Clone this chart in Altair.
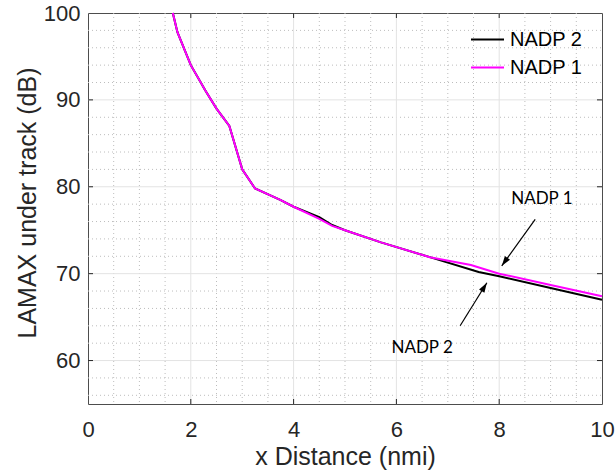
import math
import altair as alt
import pandas as pd

# Under-track LAMAX versus distance for the two departure procedures
dist_nadp1 = [1.65, 1.74, 2.0, 2.28, 2.5, 2.75, 3.0, 3.25, 3.74, 4.0, 4.5, 4.75, 5.0, 5.7, 6.65, 7.45, 8.0, 9.0, 10.0]
lamax_nadp1 = [100.0, 97.8, 94.0, 91.1, 89.0, 87.0, 82.0, 79.8, 78.5, 77.7, 76.3, 75.5, 75.0, 73.6, 71.9, 71.0, 70.0, 68.7, 67.4]

dist_nadp2 = [1.65, 1.74, 2.0, 2.28, 2.5, 2.75, 3.0, 3.25, 3.74, 4.0, 4.5, 4.75, 5.0, 5.7, 6.65, 7.6, 8.0, 9.0, 10.0]
lamax_nadp2 = [100.0, 97.8, 94.0, 91.1, 89.0, 87.0, 82.0, 79.8, 78.5, 77.7, 76.5, 75.6, 75.0, 73.6, 71.9, 70.2, 69.7, 68.35, 67.0]

series_names = ["NADP 2", "NADP 1"]
series_colors = ["#000000", "#ff00ff"]

# Axis ticks and grid
x_major = [0, 2, 4, 6, 8, 10]
y_major = [60, 70, 80, 90, 100]
x_minor = [0.5, 1, 1.5, 2.5, 3, 3.5, 4.5, 5, 5.5, 6.5, 7, 7.5, 8.5, 9, 9.5]
y_minor = [56, 58, 62, 64, 66, 68, 72, 74, 76, 78, 82, 84, 86, 88, 92, 94, 96, 98]

# Annotations: label text, label position, arrow tail and arrow tip
note_text = ["NADP 1", "NADP 2"]
note_x = [8.83, 6.5]
note_y = [78.6, 61.4]
arrow_x0 = [8.70, 7.24]
arrow_y0 = [76.25, 64.0]
arrow_x1 = [8.05, 7.76]
arrow_y1 = [70.9, 68.95]

W, H = 514, 391
X_DOM = [0, 10]
Y_DOM = [55, 100]
FONT = "Liberation Sans"
INK = "#262626"

xs = alt.Scale(domain=X_DOM, nice=False, zero=False)
ys = alt.Scale(domain=Y_DOM, nice=False, zero=False)

# arrowhead rotation (clockwise from "up") in screen space
px_x = W / (X_DOM[1] - X_DOM[0])
px_y = H / (Y_DOM[1] - Y_DOM[0])
arrow_angle = []
for a, b, c, d in zip(arrow_x0, arrow_y0, arrow_x1, arrow_y1):
    dx = (c - a) * px_x
    dy = -(d - b) * px_y
    arrow_angle.append(math.degrees(math.atan2(dx, -dy)) % 360)

curve1 = pd.DataFrame({"x": dist_nadp1, "y": lamax_nadp1, "series": "NADP 1"})
curve2 = pd.DataFrame({"x": dist_nadp2, "y": lamax_nadp2, "series": "NADP 2"})
notes = pd.DataFrame({
    "text": note_text, "tx": note_x, "ty": note_y,
    "x0": arrow_x0, "y0": arrow_y0, "x1": arrow_x1, "y1": arrow_y1,
    "angle": arrow_angle,
})

x_axis = alt.Axis(
    values=x_major, title="x Distance (nmi)", grid=False, ticks=False, tickSize=0, domain=False,
    labelFont=FONT, labelFontSize=22, labelColor=INK, labelPadding=32, labelBaseline="alphabetic",
    labelFlush=False, labelOverlap=False, labelBound=False,
    titleFont=FONT, titleFontSize=25, titleFontWeight="normal", titleColor=INK,
    titleY=60, titleBaseline="alphabetic",
)
y_axis = alt.Axis(
    values=y_major, title="LAMAX under track (dB)", grid=False, ticks=False, tickSize=0, domain=False,
    labelFont=FONT, labelFontSize=22, labelColor=INK, labelPadding=8,
    labelFlush=False, labelOverlap=False, labelBound=False,
    titleFont=FONT, titleFontSize=25, titleFontWeight="normal", titleColor=INK,
    titleAngle=270, titleX=-53, titleY=H / 2 - 6, titleAlign="center", titleBaseline="alphabetic",
)


def X(field):
    return alt.X(field, scale=xs, axis=x_axis)


def Y(field):
    return alt.Y(field, scale=ys, axis=y_axis)


grid_dot = dict(color="#bdbdbd", strokeWidth=1, strokeDash=[1, 3])
grid_solid = dict(color="#e3e3e3", strokeWidth=1)

minor_vx = alt.Chart(pd.DataFrame({"v": x_minor})).mark_rule(**grid_dot).encode(
    x=X("v:Q"), y=alt.value(0), y2=alt.value(H))
minor_hy = alt.Chart(pd.DataFrame({"v": y_minor})).mark_rule(**grid_dot).encode(
    y=Y("v:Q"), x=alt.value(0), x2=alt.value(W))
major_vx = alt.Chart(pd.DataFrame({"v": x_major[1:-1]})).mark_rule(**grid_solid).encode(
    x=X("v:Q"), y=alt.value(0), y2=alt.value(H))
major_hy = alt.Chart(pd.DataFrame({"v": y_major[:-1]})).mark_rule(**grid_solid).encode(
    y=Y("v:Q"), x=alt.value(0), x2=alt.value(W))

# inward tick marks on all four sides
TK = 5
tick_style = dict(color=INK, strokeWidth=1)
xt = pd.DataFrame({"v": x_major[1:-1]})
yt = pd.DataFrame({"v": y_major[:-1]})
ticks = [
    alt.Chart(xt).mark_rule(**tick_style).encode(x=X("v:Q"), y=alt.value(H - TK), y2=alt.value(H)),
    alt.Chart(xt).mark_rule(**tick_style).encode(x=X("v:Q"), y=alt.value(0), y2=alt.value(TK)),
    alt.Chart(yt).mark_rule(**tick_style).encode(y=Y("v:Q"), x=alt.value(0), x2=alt.value(TK)),
    alt.Chart(yt).mark_rule(**tick_style).encode(y=Y("v:Q"), x=alt.value(W - TK), x2=alt.value(W)),
]

color = alt.Color(
    "series:N",
    scale=alt.Scale(domain=series_names, range=series_colors),
    legend=alt.Legend(
        title=None, orient="none", legendX=382, legendY=9,
        symbolType="stroke", symbolSize=1089, symbolStrokeWidth=2,
        labelFont=FONT, labelFontSize=20, labelColor="#000000",
        labelOffset=5, padding=0, rowPadding=-2,
    ),
)

line2 = alt.Chart(curve2).mark_line(strokeWidth=2).encode(
    x=X("x:Q"), y=Y("y:Q"), color=color,
)
line1 = alt.Chart(curve1).mark_line(strokeWidth=2).encode(
    x=X("x:Q"), y=Y("y:Q"), color=color,
)

arrow_shafts = alt.Chart(notes).mark_rule(color="#000000", strokeWidth=1.2).encode(
    x=X("x0:Q"), y=Y("y0:Q"), x2="x1:Q", y2="y1:Q",
)
arrow_heads = alt.Chart(notes).mark_point(
    shape="M0,0L-0.32,1L0.32,1Z", filled=True, color="#000000", size=380, opacity=1,
).encode(
    x=X("x1:Q"), y=Y("y1:Q"), angle=alt.Angle("angle:Q", scale=None),
)
note_labels = alt.Chart(notes).mark_text(
    font="Lato", fontSize=17, color="#000000", align="center", baseline="middle",
).encode(x=X("tx:Q"), y=Y("ty:Q"), text="text:N")

chart = alt.layer(
    minor_vx, minor_hy, major_vx, major_hy, *ticks,
    line2, line1, arrow_shafts, arrow_heads, note_labels,
).properties(
    width=W, height=H,
    autosize=alt.AutoSizeParams(type="none"),
    padding={"left": 88, "top": 13, "right": 13, "bottom": 71},
    background="#ffffff",
).configure_view(stroke="#4d4d4d", strokeWidth=1)

chart.save("out.html", embed_options={"renderer": "svg", "actions": False})
